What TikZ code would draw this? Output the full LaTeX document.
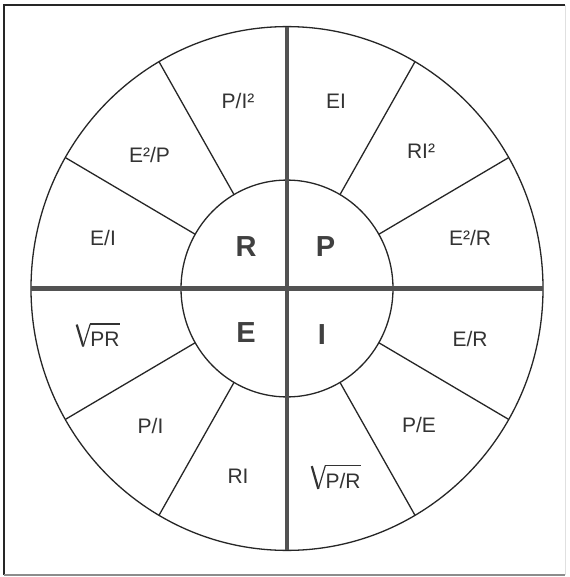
\documentclass[tikz,border=0pt]{standalone}
\usepackage{fontspec}
\setmainfont{Liberation Sans}
\usetikzlibrary{calc}
\tikzset{
  thinline/.style={draw=black!85, line width=1.3pt},
  thickline/.style={draw=black!68, line width=4.8pt},
  outerlbl/.style={font=\fontsize{21}{24}\selectfont, text=black!80, inner sep=0pt},
  innerlbl/.style={font=\fontsize{29}{32}\selectfont\bfseries, text=black!75, inner sep=0pt},
  radline/.style={draw=black!80, line width=1.2pt},
  radthick/.style={draw=black!80, line width=2.2pt},
}
\begin{document}
\begin{tikzpicture}[x=1pt,y=-1pt]
\useasboundingbox (0,0) rectangle (569,577);
\fill[white] (0,0) rectangle (569,577);
% border
\draw[black!85, line width=1.5pt] (4,575) -- (4,5) -- (565,5);
\draw[black!45, line width=1.3pt] (4,575) -- (565,575);
\draw[black!12, line width=0.8pt] (565,5) -- (565,575);
\begin{scope}[shift={(287,288.5)}, yscale=1.023]
  \draw[thinline] (0,0) circle (256);
  \draw[thinline] (0,0) circle (106);
  \foreach \a in {30,60,120,150,210,240,300,330}
    \draw[thinline] (\a:106) -- (\a:256);
  \coordinate (top) at (0,-256);
  \coordinate (bot) at (0,256);
  \coordinate (lft) at (-256,0);
  \coordinate (rgt) at (256,0);
  \draw[thickline] (top) -- (bot);
  \draw[thickline] (lft) -- (rgt);
\end{scope}
% inner letters
\node[innerlbl] (R) at (246,246.5) {R};
\node[innerlbl] (P) at (325.5,246.5) {P};
\node[innerlbl] (E) at (246,333) {E};
\node[innerlbl] (I) at (322,334.5) {I};
% outer labels
\node[outerlbl] (PI2) at (238,101) {P/I²};
\node[outerlbl] (EI) at (336,101) {EI};
\node[outerlbl] (RI2) at (421,151) {RI²};
\node[outerlbl] (E2R) at (470,238) {E²/R};
\node[outerlbl] (ER) at (470,339) {E/R};
\node[outerlbl] (PE) at (419,425) {P/E};
\node[outerlbl] (RI) at (238,476) {RI};
\node[outerlbl] (PI) at (150.5,426) {P/I};
\node[outerlbl] (EoI) at (103,238) {E/I};
\node[outerlbl] (E2P) at (149.5,155) {E²/P};
% square roots
\node[outerlbl] (SPR) at (105,339) {PR};
\node[outerlbl] (SPR2) at (343,481) {P/R};
\foreach \n in {SPR,SPR2}{
  \coordinate (\n ol) at ($(\n.north west)+(0,-7.5)$);
  \draw[radline] ($(\n ol)+(-0.5,0)$) -- ($(\n.north east)+(0.5,-7.5)$);
  \draw[radthick] ($(\n ol)+(-13.5,0.5)$) -- ($(\n.south west)+(-7,0)$);
  \draw[radline] ($(\n.south west)+(-7,0)$) -- (\n ol);
}
\end{tikzpicture}
\end{document}
